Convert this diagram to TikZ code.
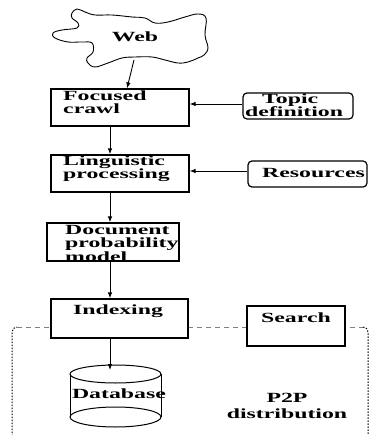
\documentclass[tikz,border=0pt]{standalone}
\usepackage{fontspec}
\setmainfont{Liberation Serif}[FakeStretch=1.7]
\usetikzlibrary{arrows.meta}
\begin{document}
\begin{tikzpicture}[x=1pt,y=-1pt,
  procbox/.style={draw, line width=1.2pt, fill=white, inner sep=0pt},
  roundbox/.style={procbox, rounded corners=4pt},
  lbl/.style={font=\bfseries\fontsize{14}{14}\selectfont, inner sep=0pt},
  arr/.style={-{Latex[length=6pt,width=4.5pt]}, line width=0.9pt},
  topedge/.style={gray, line width=0.9pt, dash pattern=on 5pt off 4pt},
  sideedge/.style={line width=1pt, dash pattern=on 1.5pt off 1.5pt, rounded corners=5pt},
]
\useasboundingbox (0,0) rectangle (370,435);

% P2P distribution region
\draw[topedge] (17,327) -- (363,327);
\draw[sideedge] (12,436) |- (17,327);
\draw[sideedge] (363,327) -| (368,436);

% the Web cloud
\draw[line width=0.9pt] plot[smooth cycle, tension=0.65] coordinates {
  (72,13) (77,9) (85,12) (95,15) (112,15) (132,17) (145,18) (155,23)
  (168,22) (185,17) (198,14) (206,18) (205,35) (208,48) (204,55)
  (198,58) (188,62) (178,63) (165,60) (152,57) (135,57) (122,58)
  (108,63) (95,67) (88,63) (87,58) (93,52) (92,43) (82,42) (68,42)
  (55,38) (53,33) (62,30) (77,28) (78,23) (72,18)};
\node[lbl, anchor=base] (web) at (135,42) {Web};
\coordinate (webout) at (134,60);

% processing chain
\node[procbox, minimum width=138pt, minimum height=37pt] (fc) at (120,107.5) {};
\node[lbl, anchor=base west] (fc1) at (63,100.5) {Focused};
\node[lbl, anchor=base west] (fc2) at (63,114) {crawl};

\node[procbox, minimum width=138pt, minimum height=37pt] (lp) at (120,173.5) {};
\node[lbl, anchor=base west] (lp1) at (63,165.5) {Linguistic};
\node[lbl, anchor=base west] (lp2) at (63,179) {processing};

\node[procbox, minimum width=132pt, minimum height=38pt] (dpm) at (113,242) {};
\node[lbl, anchor=base west] (dpm1) at (65,234) {Document};
\node[lbl, anchor=base west] (dpm2) at (65,247.5) {probability};
\node[lbl, anchor=base west] (dpm3) at (65,261) {model};

\node[procbox, minimum width=137pt, minimum height=39pt] (idx) at (119.5,318.5) {};
\node[lbl, anchor=base] (idx1) at (118,314.5) {Indexing};

\node[procbox, minimum width=98pt, minimum height=40pt] (search) at (296,326) {};
\node[lbl, anchor=base] (search1) at (296,322) {Search};

% side inputs
\node[roundbox, minimum width=110pt, minimum height=26pt] (topic) at (298,106) {};
\node[lbl, anchor=base west] (topic1) at (262,104) {Topic};
\node[lbl, anchor=base west] (topic2) at (245,117) {definition};

\node[roundbox, minimum width=119pt, minimum height=26pt] (res) at (307.5,174) {};
\node[lbl, anchor=base] (res1) at (313.5,177.5) {Resources};

% database cylinder
\draw[line width=1pt] (115.5,374) ellipse [x radius=45.5, y radius=9];
\draw[line width=1pt] (115.5,417) ellipse [x radius=45.5, y radius=10];
\draw[line width=1pt] (70,374) -- (70,417) (161,374) -- (161,417);
\node[lbl, anchor=base] (db) at (119,398) {Database};
\coordinate (dbin) at (110,370);

\node[lbl, anchor=base] (p2p1) at (287,402) {P2P};
\node[lbl, anchor=base] (p2p2) at (287,418) {distribution};

% connectors
\draw[arr] (webout) -- ([xshift=7pt]fc.north);
\draw[arr] ([xshift=-10pt]fc.south) -- ([xshift=-10pt]lp.north);
\draw[arr] ([xshift=-10pt]lp.south) -- ([xshift=-3pt]dpm.north);
\draw[arr] ([xshift=-3pt]dpm.south) -- ([xshift=-9.5pt]idx.north);
\draw[arr] ([xshift=-9.5pt]idx.south) -- (dbin);
\draw[arr] ([yshift=2pt]topic.west) -- ([yshift=2pt]topic.west -| fc.east);
\draw[arr] ([yshift=3pt]res.west) -- ([yshift=3pt]res.west -| lp.east);
\end{tikzpicture}
\end{document}
